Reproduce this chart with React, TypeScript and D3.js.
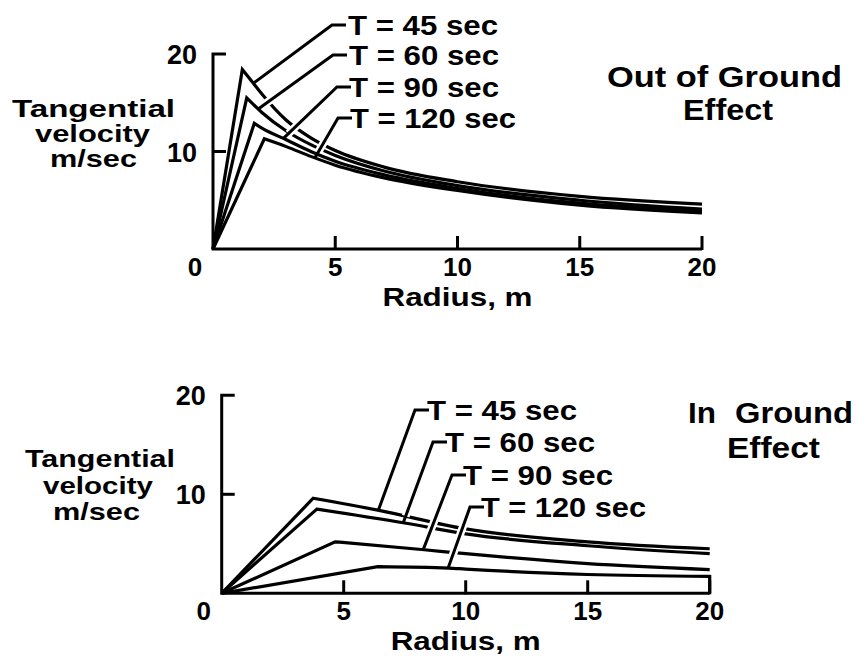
import React from 'react';
import * as d3 from 'd3';

type Pt = [number, number];

const radiusTicks = [0, 5, 10, 15, 20];
const velocityTicks = [0, 10, 20];
const periodLabels = ['T = 45 sec', 'T = 60 sec', 'T = 90 sec', 'T = 120 sec'];

// Out of ground effect: [radius m, tangential velocity m/sec]
const ogeT45: Pt[] = [[0, 0], [1.2, 18.4], [1.65, 17.0], [2, 15.9], [3, 13.2], [4, 11.4], [5, 10.1], [7, 8.4], [10, 6.9], [15, 5.4], [20, 4.6]];
const ogeT60: Pt[] = [[0, 0], [1.38, 15.5], [2, 14.0], [3, 12.1], [4, 10.7], [5, 9.6], [7, 8.0], [10, 6.5], [15, 5.0], [20, 4.1]];
const ogeT90: Pt[] = [[0, 0], [1.69, 12.9], [2, 12.4], [3, 11.2], [4, 10.0], [5, 9.0], [7, 7.6], [10, 6.2], [15, 4.7], [20, 3.9]];
const ogeT120: Pt[] = [[0, 0], [2.1, 11.3], [3, 10.5], [4, 9.5], [5, 8.6], [7, 7.3], [10, 6.0], [15, 4.5], [20, 3.7]];

// In ground effect
const igeT45: Pt[] = [[0, 0], [3.75, 9.6], [6.4, 8.4], [10, 6.5], [15, 5.2], [20, 4.5]];
const igeT60: Pt[] = [[0, 0], [3.9, 8.5], [7.5, 7.1], [10, 6.0], [15, 4.8], [20, 4.0]];
const igeT90: Pt[] = [[0, 0], [4.65, 5.2], [8.3, 4.4], [10, 4.0], [15, 3.0], [20, 2.4]];
const igeT120: Pt[] = [[0, 0], [6.4, 2.7], [9.3, 2.55], [10, 2.45], [15, 1.9], [20, 1.7]];

// radius where each label's leader line touches its curve
const ogeLeaderRadius = [1.65, 1.85, 2.88, 4.17];
const igeLeaderRadius = [6.42, 7.44, 8.26, 9.28];

const FONT = "'Liberation Sans', Arial, Helvetica, sans-serif";

function interp(pts: Pt[], r: number): number {
  for (let i = 1; i < pts.length; i++) {
    if (r <= pts[i][0]) {
      const [x0, y0] = pts[i - 1];
      const [x1, y1] = pts[i];
      return y0 + ((r - x0) / (x1 - x0)) * (y1 - y0);
    }
  }
  return pts[pts.length - 1][1];
}

interface TextSpec { text: string; x: number; y: number; w: number; size: number; anchor?: string }

interface PanelProps {
  xRange: [number, number];
  yRange: [number, number];
  series: Pt[][];
  leaderR: number[];
  elbows: { x: number; y: number; text: number; w: number }[];
  texts: TextSpec[];
  closeLast?: boolean;
}

function Panel({ xRange, yRange, series, leaderR, elbows, texts, closeLast }: PanelProps) {
  const x = d3.scaleLinear().domain([0, 20]).range(xRange);
  const y = d3.scaleLinear().domain([0, 20]).range(yRange);
  const x0 = x(0);
  const y0 = y(0);
  const lin = d3.line<Pt>().x(d => x(d[0])).y(d => y(d[1]));
  const mono = d3.line<Pt>().x(d => x(d[0])).y(d => y(d[1])).curve(d3.curveMonotoneX);

  const curvePath = (pts: Pt[], close: boolean) => {
    const rest = mono(pts.slice(1)) || '';
    const tail = rest.replace(/^M[^A-Za-z]*/, '');
    let d = (lin(pts.slice(0, 2)) || '') + tail;
    if (close) {
      const last = pts[pts.length - 1];
      d += `L${x(last[0])},${y0}`;
    }
    return d;
  };

  return (
    <g>
      {/* axes */}
      <path
        d={`M${x0 + 13},${y(20)}H${x0}V${y0}H${x(20)}`}
        fill="none" stroke="#000" strokeWidth={3} strokeLinejoin="miter"
      />
      {velocityTicks.filter(v => v > 0 && v < 20).map(v => (
        <line key={'yt' + v} x1={x0} x2={x0 + 13} y1={y(v)} y2={y(v)} stroke="#000" strokeWidth={3} />
      ))}
      {radiusTicks.filter(r => r > 0).map(r => (
        <line key={'xt' + r} x1={x(r)} x2={x(r)} y1={y0 + 1} y2={y0 - 13} stroke="#000" strokeWidth={3} />
      ))}
      {/* tick labels */}
      {velocityTicks.filter(v => v > 0).map(v => (
        <text key={'yl' + v} x={x0 - 16} y={y(v) + 10} textAnchor="end" fontSize={27} fontWeight="bold" fontFamily={FONT}>{v}</text>
      ))}
      {radiusTicks.map(r => (
        <text key={'xl' + r} x={r === 0 ? x0 - 18 : x(r)} y={y0 + 27} textAnchor="middle" fontSize={26} fontWeight="bold" fontFamily={FONT}>{r}</text>
      ))}
      <text x={(xRange[0] + xRange[1]) / 2} y={y0 + 57} textAnchor="middle" fontSize={25} fontWeight="bold" fontFamily={FONT}
        textLength={150} lengthAdjust="spacingAndGlyphs">Radius, m</text>

      {/* curves */}
      {series.map((pts, i) => (
        <path key={'c' + i} d={curvePath(pts, !!closeLast && i === series.length - 1)} fill="none" stroke="#000"
          strokeWidth={3.2} strokeLinejoin="miter" strokeMiterlimit={6} />
      ))}

      {/* leaders */}
      {series.map((pts, i) => {
        const r = leaderR[i];
        const ex = x(r);
        const ey = y(interp(pts, r));
        const e = elbows[i];
        const dx = e.x - ex;
        const dy = e.y - ey;
        const len = Math.hypot(dx, dy);
        const hx = ex + (dx / len) * 7;
        const hy = ey + (dy / len) * 7;
        return (
          <g key={'l' + i}>
            <path d={`M${hx},${hy}L${e.x},${e.y}`} fill="none" stroke="#fff" strokeWidth={8} />
            <path d={`M${ex},${ey}L${e.x},${e.y}H${e.x + 14}`} fill="none" stroke="#000" strokeWidth={3} strokeLinejoin="miter" />
            <text x={e.text} y={e.y + 10} fontSize={27} fontWeight="bold" fontFamily={FONT}
              textLength={e.w} lengthAdjust="spacingAndGlyphs">{periodLabels[i]}</text>
          </g>
        );
      })}

      {/* titles */}
      {texts.map((t, i) => (
        <text key={'t' + i} x={t.x} y={t.y} textAnchor={t.anchor || 'start'} fontSize={t.size} fontWeight="bold" fontFamily={FONT}
          textLength={t.w} lengthAdjust="spacingAndGlyphs">{t.text}</text>
      ))}
    </g>
  );
}

export default function App() {
  return (
    <svg width={858} height={665} viewBox="0 0 858 665"
      style={{ position: 'absolute', left: 0, top: 0, background: '#fff' }}>
      <rect width={858} height={665} fill="#fff" />
      <Panel
        xRange={[213, 702]}
        yRange={[249, 54]}
        series={[ogeT45, ogeT60, ogeT90, ogeT120]}
        leaderR={ogeLeaderRadius}
        elbows={[
          { x: 332, y: 25, text: 348, w: 150 },
          { x: 333, y: 55, text: 349, w: 150 },
          { x: 337, y: 87, text: 349, w: 150 },
          { x: 338, y: 118, text: 350, w: 166 },
        ]}
        texts={[
          { text: 'Tangential', x: 12, y: 117, w: 163, size: 24 },
          { text: 'velocity', x: 35, y: 142, w: 115, size: 24 },
          { text: 'm/sec', x: 50, y: 167, w: 87, size: 24 },
          { text: 'Out of Ground', x: 607, y: 87, w: 235, size: 29 },
          { text: 'Effect', x: 683, y: 120, w: 90, size: 29 },
        ]}
      />
      <Panel
        xRange={[221.7, 709.7]}
        yRange={[593.3, 395.3]}
        series={[igeT45, igeT60, igeT90, igeT120]}
        leaderR={igeLeaderRadius}
        closeLast
        elbows={[
          { x: 415, y: 410, text: 427, w: 150 },
          { x: 433, y: 442, text: 445, w: 150 },
          { x: 452, y: 475, text: 463, w: 150 },
          { x: 470, y: 507, text: 481, w: 165 },
        ]}
        texts={[
          { text: 'Tangential', x: 25, y: 467, w: 150, size: 24 },
          { text: 'velocity', x: 43, y: 494, w: 110, size: 24 },
          { text: 'm/sec', x: 53, y: 520, w: 87, size: 24 },
          { text: 'In', x: 688, y: 423, w: 28, size: 29 },
          { text: 'Ground', x: 735, y: 423, w: 118, size: 29 },
          { text: 'Effect', x: 727, y: 458, w: 93, size: 29 },
        ]}
      />
    </svg>
  );
}
